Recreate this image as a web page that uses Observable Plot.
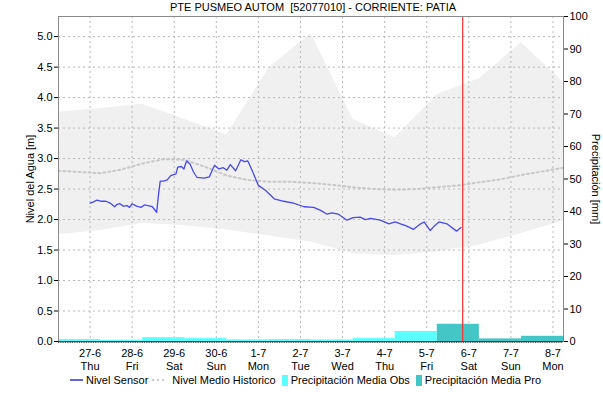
<!DOCTYPE html>
<html><head><meta charset="utf-8">
<script src="https://cdn.jsdelivr.net/npm/d3@7"></script>
<script src="https://cdn.jsdelivr.net/npm/@observablehq/plot@0.6"></script>
<style>
body{margin:0;background:#fff;font-family:"Liberation Sans",Arial,sans-serif;}
#wrap{position:relative;width:603px;height:403px;overflow:hidden;}
#title{position:absolute;top:0px;left:0;width:626px;text-align:center;font-size:11px;color:#000;line-height:14px;}
#legend{position:absolute;top:374px;left:0;width:615px;display:flex;justify-content:center;align-items:center;font-size:11px;color:#000;white-space:nowrap;}
#legend .it{display:flex;align-items:center;margin-right:4px;}
#legend svg{margin-right:3px;}
</style></head>
<body><div id="wrap"><div id="title">PTE PUSMEO AUTOM&nbsp; [52077010] - CORRIENTE: PATIA</div><div id="chart"></div>
<div id="legend">
<span class="it"><svg width="13" height="10"><line x1="0" y1="5" x2="13" y2="5" stroke="#1010c0" stroke-width="1.3"/></svg>Nivel Sensor</span>
<span class="it"><svg width="17" height="10"><line x1="0" y1="5" x2="14" y2="5" stroke="#c8c8c8" stroke-width="2" stroke-dasharray="2,3"/></svg>Nivel Medio Historico</span>
<span class="it" style="margin-left:2px"><svg width="6" height="11"><rect width="6" height="11" fill="#5cffff"/></svg>Precipitación Media Obs</span>
<span class="it" style="margin-left:2px"><svg width="6" height="11"><rect width="6" height="11" fill="#45c6c6"/></svg>Precipitación Media Pro</span>
</div></div>
<script>
// ---- data ----
const dayLabels = ["2024-06-27","2024-06-28","2024-06-29","2024-06-30","2024-07-01","2024-07-02","2024-07-03","2024-07-04","2024-07-05","2024-07-06","2024-07-07","2024-07-08"];
const weekdays = ["Thu","Fri","Sat","Sun","Mon","Tue","Wed","Thu","Fri","Sat","Sun","Mon"];
// precipitation (mm), day bars ending 06:00 of each date
const precipDays = ["2024-06-26","2024-06-27","2024-06-28","2024-06-29","2024-06-30","2024-07-01","2024-07-02","2024-07-03","2024-07-04","2024-07-05","2024-07-06","2024-07-07"];
const precipObs = [0.6,0.4,1.2,0.9,0.5,0.6,0.5,0.9,3.1,null,null,null];
const precipPro = [null,null,null,null,null,null,null,null,null,5.3,0.8,1.6];
// historical band (m), daily
const bandTimes = ["2024-06-26T06:00","2024-06-27T06:00","2024-06-28T06:00","2024-06-29T06:00","2024-06-30T06:00","2024-07-01T06:00","2024-07-02T06:00","2024-07-03T06:00","2024-07-04T06:00","2024-07-05T06:00","2024-07-06T06:00","2024-07-07T06:00","2024-07-08T06:00"];
const bandHigh = [3.76,3.82,3.89,3.64,3.39,4.48,5.05,3.64,3.34,4.05,4.31,4.90,4.25];
const bandLow  = [1.75,1.82,1.94,1.90,1.83,1.73,1.63,1.44,1.41,1.47,1.58,1.77,1.98];
// historical mean (m), twice daily
const meanTimes = ["2024-06-26T06:00","2024-06-26T18:00","2024-06-27T06:00","2024-06-27T18:00","2024-06-28T06:00","2024-06-28T18:00","2024-06-29T06:00","2024-06-29T18:00","2024-06-30T06:00","2024-06-30T18:00","2024-07-01T06:00","2024-07-01T18:00","2024-07-02T06:00","2024-07-02T18:00","2024-07-03T06:00","2024-07-03T18:00","2024-07-04T06:00","2024-07-04T18:00","2024-07-05T06:00","2024-07-05T18:00","2024-07-06T06:00","2024-07-06T18:00","2024-07-07T06:00","2024-07-07T18:00","2024-07-08T06:00"];
const meanLevel = [2.80,2.78,2.76,2.82,2.92,2.99,2.98,2.86,2.72,2.65,2.62,2.62,2.60,2.57,2.53,2.50,2.49,2.50,2.53,2.56,2.61,2.66,2.73,2.79,2.85];
// sensor level (m)
const sensorTimes = ["2024-06-27T00:00","2024-06-27T02:00","2024-06-27T04:00","2024-06-27T06:30","2024-06-27T09:00","2024-06-27T11:30","2024-06-27T14:00","2024-06-27T15:30","2024-06-27T17:00","2024-06-27T19:00","2024-06-27T21:00","2024-06-27T22:30","2024-06-28T00:00","2024-06-28T02:30","2024-06-28T05:00","2024-06-28T07:00","2024-06-28T09:00","2024-06-28T11:30","2024-06-28T14:00","2024-06-28T15:00","2024-06-28T16:00","2024-06-28T18:00","2024-06-28T20:00","2024-06-28T22:00","2024-06-29T01:00","2024-06-29T02:00","2024-06-29T04:00","2024-06-29T05:30","2024-06-29T07:00","2024-06-29T09:00","2024-06-29T11:00","2024-06-29T13:00","2024-06-29T17:00","2024-06-29T20:00","2024-06-29T23:00","2024-06-30T01:30","2024-06-30T04:00","2024-06-30T06:00","2024-06-30T08:00","2024-06-30T11:00","2024-06-30T14:00","2024-06-30T16:00","2024-06-30T18:00","2024-06-30T20:30","2024-07-01T00:00","2024-07-01T04:00","2024-07-01T09:00","2024-07-01T14:30","2024-07-01T20:00","2024-07-02T02:00","2024-07-02T07:30","2024-07-02T11:30","2024-07-02T15:00","2024-07-02T18:00","2024-07-02T21:30","2024-07-03T02:30","2024-07-03T06:00","2024-07-03T10:00","2024-07-03T13:00","2024-07-03T16:00","2024-07-03T21:30","2024-07-04T02:30","2024-07-04T06:00","2024-07-04T09:00","2024-07-04T12:00","2024-07-04T16:30","2024-07-04T20:00","2024-07-04T22:30","2024-07-05T02:00","2024-07-05T04:30","2024-07-05T07:00","2024-07-05T11:30","2024-07-05T17:00","2024-07-05T19:30"];
const sensorLevel = [2.27,2.29,2.32,2.30,2.30,2.27,2.21,2.25,2.26,2.22,2.23,2.20,2.26,2.22,2.20,2.24,2.23,2.21,2.12,2.40,2.63,2.63,2.65,2.72,2.75,2.86,2.87,2.83,2.96,2.91,2.78,2.69,2.68,2.70,2.89,2.83,2.85,2.81,2.90,2.80,2.98,2.95,2.96,2.80,2.56,2.48,2.34,2.30,2.27,2.21,2.20,2.15,2.09,2.11,2.09,1.99,2.03,2.04,2.00,2.02,1.99,1.93,1.96,1.93,1.90,1.84,1.92,1.96,1.82,1.90,1.96,1.93,1.81,1.87];
const nowTime = "2024-07-05T20:30";
const leftTicks = [0,0.5,1,1.5,2,2.5,3,3.5,4,4.5,5];
const rightTicks = [0,10,20,30,40,50,60,70,80,90,100];

// ---- build ----
const T = s => new Date(s + (s.length > 10 ? ":00Z" : "T00:00:00Z"));
const ymax = 5.33, k = ymax / 100;
const band = bandTimes.map((t,i) => ({t: T(t), hi: bandHigh[i], lo: bandLow[i]}));
const mean = meanTimes.map((t,i) => ({t: T(t), v: meanLevel[i]}));
const sensor = sensorTimes.map((t,i) => ({t: T(t), v: sensorLevel[i]}));
const bars = [];
precipDays.forEach((d,i) => {
  const a = d3.utcHour.offset(T(d), 6), b = d3.utcDay.offset(a, 1);
  if (precipObs[i] != null) bars.push({a, b, v: precipObs[i]*k, c: "#5cffff"});
  if (precipPro[i] != null) bars.push({a, b, v: precipPro[i]*k, c: "#45c6c6"});
});
const dayTicks = dayLabels.map(T);
const x0 = T(bandTimes[0]), x1 = T(bandTimes[bandTimes.length-1]);
const hourTicks = d3.utcHour.every(1).range(x0, x1);
const fmtDay = (d) => { const i = dayTicks.findIndex(t => +t === +d); return `${d.getUTCDate()}-${d.getUTCMonth()+1}\n${weekdays[i]}`; };

const chart = Plot.plot({
  width: 603, height: 403,
  marginLeft: 58, marginRight: 40, marginTop: 16, marginBottom: 62,
  style: {fontFamily: "Liberation Sans, Arial, sans-serif", fontSize: "11px", background: "#fff", color: "#000"},
  x: {type: "utc", domain: [x0, x1]},
  y: {domain: [0, ymax]},
  marks: [
    Plot.areaY(band, {x: "t", y1: "lo", y2: "hi", fill: "#f0f0f0"}),
    Plot.gridX(dayTicks, {stroke: "#b8b8b8", strokeOpacity: 1, strokeDasharray: "2,3"}),
    Plot.gridY(leftTicks.slice(1), {stroke: "#b8b8b8", strokeOpacity: 1, strokeDasharray: "2,3"}),
    Plot.rect(bars, {x1: "a", x2: "b", y1: 0, y2: "v", fill: "c"}),
    Plot.line(mean, {x: "t", y: "v", stroke: "#c8c8c8", strokeWidth: 2, strokeDasharray: "2,3"}),
    Plot.line(sensor, {x: "t", y: "v", stroke: "#4848f4", strokeWidth: 1.3}),
    Plot.ruleX([T(nowTime)], {stroke: "#ff3030", strokeWidth: 1.2}),
    Plot.axisY(leftTicks, {anchor: "left", tickSize: 4, tickPadding: 2, tickFormat: d => d.toFixed(1), label: null}),
    Plot.axisY(rightTicks.map(v => v*k), {anchor: "right", tickSize: 4, tickPadding: 2, tickFormat: d => String(Math.round(d/k)), label: null}),
    Plot.axisX(dayTicks, {anchor: "bottom", tickSize: 0, tickPadding: 6, lineHeight: 1.18, tickFormat: fmtDay, label: null}),
    Plot.axisX(hourTicks, {anchor: "bottom", tickSize: 2, stroke: "#555", tickFormat: () => "", label: null}),
    Plot.frame({stroke: "#8a8a8a"}),
    Plot.ruleY([0], {stroke: "#444"}),
    Plot.text(["Nivel del Agua [m]"], {frameAnchor: "left", text: d => d, rotate: -90, dx: -28, textAnchor: "middle", fontSize: 11}),
    Plot.text(["Precipitación [mm]"], {frameAnchor: "right", text: d => d, rotate: 90, dx: 32, textAnchor: "middle", fontSize: 11})
  ]
});
document.getElementById("chart").appendChild(chart);
</script></body></html>
